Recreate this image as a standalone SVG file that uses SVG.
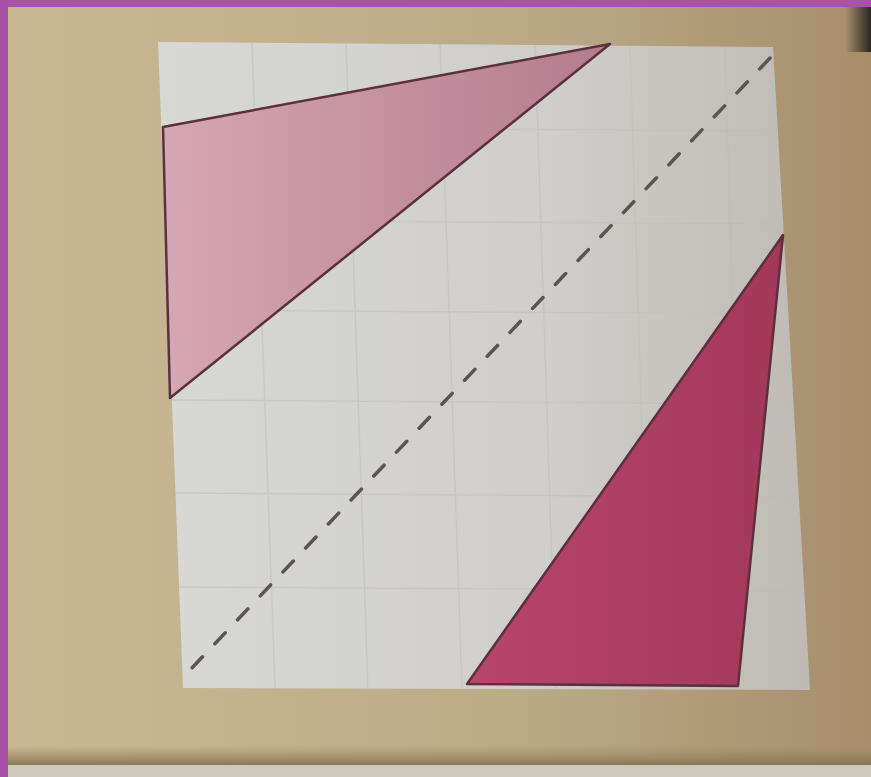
<svg xmlns="http://www.w3.org/2000/svg" width="871" height="777" viewBox="0 0 871 777">
  <defs>
    <linearGradient id="bg" x1="0" y1="0" x2="1" y2="0">
      <stop offset="0" stop-color="#c8b994"/>
      <stop offset="0.6" stop-color="#bcaa87"/>
      <stop offset="1" stop-color="#a68e6d"/>
    </linearGradient>
    <linearGradient id="paper" x1="0" y1="0" x2="1" y2="0">
      <stop offset="0" stop-color="#d8d8d4"/>
      <stop offset="0.6" stop-color="#cfceca"/>
      <stop offset="1" stop-color="#bfbab4"/>
    </linearGradient>
    <linearGradient id="pink" x1="0" y1="0" x2="1" y2="0">
      <stop offset="0" stop-color="#d5a6b4"/>
      <stop offset="1" stop-color="#b47c8e"/>
    </linearGradient>
    <linearGradient id="rose" x1="0" y1="0" x2="1" y2="0">
      <stop offset="0" stop-color="#b8456c"/>
      <stop offset="1" stop-color="#a3385b"/>
    </linearGradient>
    <linearGradient id="shade" x1="0" y1="0" x2="0" y2="1">
      <stop offset="0" stop-color="#9b8864" stop-opacity="0"/>
      <stop offset="1" stop-color="#85724f" stop-opacity="0.9"/>
    </linearGradient>
    <linearGradient id="corner" x1="0" y1="0" x2="1" y2="0">
      <stop offset="0" stop-color="#2e2a22" stop-opacity="0"/>
      <stop offset="1" stop-color="#2a261e"/>
    </linearGradient>
  </defs>
  <style>
    .grid { stroke: #bdbcb6; stroke-width: 1.5; fill: none; opacity: 0.5; }
    .tri { stroke: #5a3040; stroke-width: 2.5; stroke-linejoin: round; }
    .dash { stroke: #58564f; stroke-width: 3.5; stroke-dasharray: 15 18; stroke-linecap: round; fill: none; }
  </style>

  <!-- background page -->
  <rect x="0" y="0" width="871" height="777" fill="url(#bg)"/>
  <rect x="0" y="745" width="871" height="20" fill="url(#shade)"/>
  <rect x="0" y="765" width="871" height="12" fill="#cdc9bd"/>
  <rect x="845" y="7" width="26" height="45" fill="url(#corner)"/>

  <!-- purple frame -->
  <rect x="0" y="0" width="871" height="7" fill="#a852a8"/>
  <rect x="0" y="0" width="8" height="777" fill="#a54fa6"/>

  <!-- grid paper -->
  <g id="paper">
    <polygon points="158,42 773,47 810,690 183,688" fill="url(#paper)"/>
    <g class="grid">
      <line x1="252" y1="43" x2="275" y2="688"/>
      <line x1="346" y1="44" x2="368" y2="688"/>
      <line x1="440" y1="44" x2="462" y2="689"/>
      <line x1="535" y1="45" x2="556" y2="689"/>
      <line x1="630" y1="46" x2="650" y2="689"/>
      <line x1="725" y1="47" x2="744" y2="690"/>
      <line x1="161" y1="127" x2="778" y2="131"/>
      <line x1="164" y1="220" x2="784" y2="224"/>
      <line x1="167" y1="310" x2="789" y2="314"/>
      <line x1="171" y1="400" x2="794" y2="404"/>
      <line x1="174" y1="493" x2="799" y2="497"/>
      <line x1="178" y1="587" x2="804" y2="591"/>
    </g>
  </g>

  <!-- shapes -->
  <g id="triangle-light">
    <polygon class="tri" points="163,127 610,44 170,398" fill="url(#pink)"/>
  </g>
  <g id="triangle-dark">
    <polygon class="tri" points="783,235 738,686 467,684" fill="url(#rose)"/>
  </g>
  <g id="connectors">
    <line class="dash" x1="770" y1="58" x2="190" y2="670"/>
  </g>
</svg>
